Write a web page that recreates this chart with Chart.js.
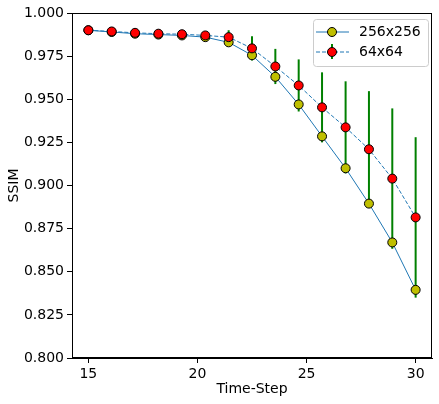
<!DOCTYPE html>
<html>
<head>
<meta charset="utf-8">
<script src="https://cdn.jsdelivr.net/npm/chart.js@4"></script>
<style>
  html, body { margin: 0; padding: 0; background: #fff; }
  #wrap { width: 439px; height: 404px; }
</style>
</head>
<body>
<div id="wrap"><canvas id="chart" width="439" height="404"></canvas></div>
<script>
const timeSteps = [15, 16.07, 17.14, 18.21, 19.29, 20.36, 21.43, 22.5, 23.57, 24.64, 25.71, 26.79, 27.86, 28.93, 30];
const ssim256 = [0.990, 0.989, 0.988, 0.9875, 0.987, 0.986, 0.983, 0.9755, 0.963, 0.947, 0.9285, 0.910, 0.8895, 0.867, 0.8395];
const ssim64 = [0.990, 0.9893, 0.9885, 0.988, 0.9877, 0.987, 0.986, 0.9795, 0.969, 0.958, 0.9453, 0.9337, 0.921, 0.904, 0.8815];
const err64 = [0.001, 0.001, 0.001, 0.001, 0.001, 0.002, 0.004, 0.007, 0.0102, 0.0151, 0.0203, 0.0267, 0.0337, 0.0407, 0.0465];
const xTicks = [15, 20, 25, 30];
const seriesNames = ['256x256', '64x64'];

const FONT = 'DejaVu Sans';
const blue = '#1f77b4';

// error bars under the markers, drawn with the chart's scales
const errorBars = {
    id: 'errorBars',
    beforeDatasetsDraw(chart) {
        const ctx = chart.ctx, x = chart.scales.x, y = chart.scales.y;
        ctx.save();
        ctx.strokeStyle = 'green';
        ctx.lineWidth = 2;
        timeSteps.forEach((t, i) => {
            const px = x.getPixelForValue(t);
            ctx.beginPath();
            ctx.moveTo(px, y.getPixelForValue(ssim64[i] + err64[i]));
            ctx.lineTo(px, y.getPixelForValue(ssim64[i] - err64[i]));
            ctx.stroke();
        });
        ctx.restore();
    }
};

function marker(ctx, x, y, fill) {
    ctx.beginPath();
    ctx.arc(x, y, 4.5, 0, Math.PI * 2);
    ctx.fillStyle = fill;
    ctx.fill();
    ctx.lineWidth = 1;
    ctx.strokeStyle = '#000';
    ctx.stroke();
}

// frame + legend box
const frameLegend = {
    id: 'frameLegend',
    afterDraw(chart) {
        const ctx = chart.ctx, a = chart.chartArea;
        ctx.save();
        ctx.strokeStyle = '#000';
        ctx.lineWidth = 1;
        ctx.strokeRect(a.left + 0.5, a.top + 0.5, a.right - a.left - 1, a.bottom - a.top - 1);

        const bx = 313, by = 19, bw = 115, bh = 47;
        ctx.beginPath();
        ctx.roundRect(bx + 0.5, by + 0.5, bw, bh, 3);
        ctx.fillStyle = 'rgba(255,255,255,0.8)';
        ctx.fill();
        ctx.strokeStyle = '#cccccc';
        ctx.stroke();

        // entry 1
        let ly = 32;
        ctx.strokeStyle = blue;
        ctx.lineWidth = 1;
        ctx.beginPath(); ctx.moveTo(316, ly); ctx.lineTo(349, ly); ctx.stroke();
        marker(ctx, 332, ly, '#bfbf00');
        // entry 2
        ly = 52;
        ctx.strokeStyle = blue;
        ctx.setLineDash([4, 2]);
        ctx.beginPath(); ctx.moveTo(316, ly); ctx.lineTo(349, ly); ctx.stroke();
        ctx.setLineDash([]);
        ctx.strokeStyle = 'green';
        ctx.lineWidth = 2;
        ctx.beginPath(); ctx.moveTo(332, ly - 8); ctx.lineTo(332, ly + 7); ctx.stroke();
        marker(ctx, 332, ly, '#ff0000');

        ctx.fillStyle = '#000';
        ctx.font = '14px ' + FONT;
        ctx.textBaseline = 'middle';
        ctx.fillText(seriesNames[0], 359, 32);
        ctx.fillText(seriesNames[1], 359, 52);
        ctx.restore();
    }
};

new Chart(document.getElementById('chart').getContext('2d'), {
    type: 'line',
    data: {
        datasets: [
            {
                label: seriesNames[0],
                data: timeSteps.map((t, i) => ({ x: t, y: ssim256[i] })),
                borderColor: blue,
                borderWidth: 1,
                pointBackgroundColor: '#bfbf00',
                pointBorderColor: '#000',
                pointBorderWidth: 1,
                pointRadius: 4.5,
                tension: 0,
                order: 2
            },
            {
                label: seriesNames[1],
                data: timeSteps.map((t, i) => ({ x: t, y: ssim64[i] })),
                borderColor: blue,
                borderWidth: 1,
                borderDash: [4, 2],
                pointBackgroundColor: '#ff0000',
                pointBorderColor: '#000',
                pointBorderWidth: 1,
                pointRadius: 4.5,
                tension: 0,
                order: 1
            }
        ]
    },
    options: {
        responsive: false,
        animation: false,
        layout: { padding: { top: 13, right: 7, left: 0, bottom: 0 } },
        plugins: { legend: { display: false }, tooltip: { enabled: false } },
        scales: {
            x: {
                type: 'linear',
                min: 14.25,
                max: 30.75,
                afterBuildTicks: scale => { scale.ticks = xTicks.map(v => ({ value: v })); },
                afterFit: scale => { scale.height = 46; },
                grid: { drawOnChartArea: false, tickLength: 5, color: '#000' },
                border: { color: '#000' },
                ticks: { color: '#000', font: { family: FONT, size: 14 }, padding: 3, maxRotation: 0 },
                title: { display: true, text: 'Time-Step', color: '#000', font: { family: FONT, size: 14 }, padding: { top: 0, bottom: 6 } }
            },
            y: {
                min: 0.8,
                max: 1.0,
                afterFit: scale => { scale.width = 72; },
                grid: { drawOnChartArea: false, tickLength: 5, color: '#000' },
                border: { color: '#000' },
                ticks: {
                    stepSize: 0.025,
                    color: '#000',
                    font: { family: FONT, size: 14 },
                    padding: 3,
                    callback: v => v.toFixed(3)
                },
                title: { display: true, text: 'SSIM', color: '#000', font: { family: FONT, size: 14 }, padding: { top: 6, bottom: 0 } }
            }
        }
    },
    plugins: [errorBars, frameLegend]
});
</script>
</body>
</html>
